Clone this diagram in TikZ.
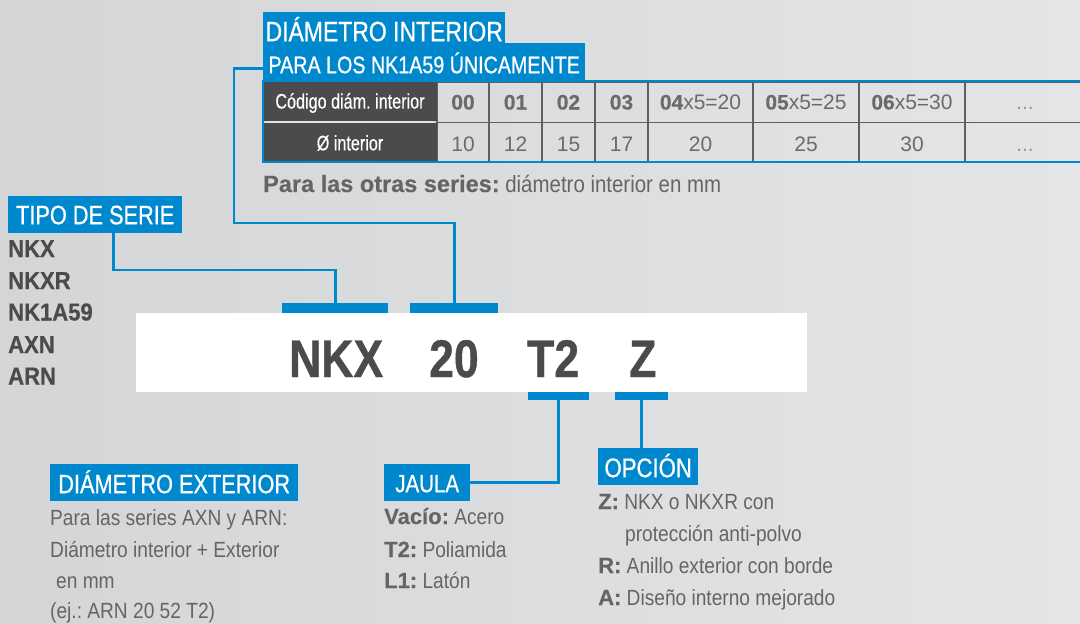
\documentclass[tikz,border=0pt]{standalone}
\usepackage{fontspec}
\setmainfont[FakeStretch=0.87]{Liberation Sans}
\newfontfamily\hfont[FakeStretch=0.82,FakeBold=0.7]{Liberation Sans}
\newfontfamily\cfont[FakeStretch=0.84,FakeBold=0.8]{Liberation Sans}
\newfontfamily\tfont[FakeStretch=0.77,FakeBold=0.4]{Liberation Sans}
\newfontfamily\sfont[FakeStretch=0.9,FakeBold=0.5]{Liberation Sans}
\newfontfamily\lfont[FakeBold=0.3]{Liberation Sans}
\newcommand\lab[1]{{\lfont\bfseries #1}}
\definecolor{bl}{HTML}{0088CE}
\definecolor{dk}{HTML}{4B4B4D}
\definecolor{tx}{HTML}{646567}
\definecolor{nm}{HTML}{6A6B6D}
\definecolor{grd}{HTML}{5E5F61}
\definecolor{bgL}{HTML}{D4D5D7}
\definecolor{bgR}{HTML}{E4E5E7}
\frenchspacing
\begin{document}
\begin{tikzpicture}[x=1pt,y=-1pt,
  tag/.style={fill=bl,text=white,inner sep=0pt,anchor=north west,text depth=0pt},
  bar/.style={fill=bl,inner sep=0pt,anchor=north west},
  conn/.style={draw=bl,line width=2.8pt},
  body/.style={anchor=base west,inner sep=0pt,text=tx,font=\frenchspacing\fontsize{22}{22}\selectfont},
  serie/.style={anchor=base west,inner sep=0pt,text=dk,font=\sfont\bfseries\fontsize{24.5}{25}\selectfont},
  code/.style={anchor=base west,inner sep=0pt,text=dk,font=\cfont\bfseries\fontsize{53}{53}\selectfont},
  cell/.style={draw=grd,line width=1.3pt,inner sep=0pt,minimum height=39.5pt,text depth=0pt,
    font=\fontsize{21}{21}\selectfont\addfontfeature{FakeStretch=1},text=nm},
  rowa/.style={cell,text height=14pt},
  rowb/.style={cell,text height=18pt},
  hdr/.style={anchor=center,text=white,inner sep=0pt,font=\tfont\fontsize{21}{21}\selectfont}
]
\useasboundingbox (0,0) rectangle (1080,624);
\fill[left color=bgL,right color=bgR] (0,0) rectangle (1080,624);

% title tags
\node[tag,minimum width=242pt,minimum height=31pt,text height=27pt,
  font=\hfont\fontsize{28}{28}\selectfont] (di) at (263,12) {DIÁMETRO INTERIOR};
\node[tag,minimum width=322pt,minimum height=37pt,text height=23pt,
  font=\hfont\fontsize{24}{24}\selectfont] (pl) at (263,43) {PARA LOS NK1A59 ÚNICAMENTE};

% table
\node[rowa,minimum width=52pt] (a1) at (463,102.5) {\lab{00}};
\node[rowa,minimum width=53pt] (a2) at (515.5,102.5) {\lab{01}};
\node[rowa,minimum width=53pt] (a3) at (568.5,102.5) {\lab{02}};
\node[rowa,minimum width=53pt] (a4) at (621.5,102.5) {\lab{03}};
\node[rowa,minimum width=105pt] (a5) at (700.5,102.5) {\lab{04}x5=20};
\node[rowa,minimum width=106pt] (a6) at (806,102.5) {\lab{05}x5=25};
\node[rowa,minimum width=106pt] (a7) at (912,102.5) {\lab{06}x5=30};
\node[rowa,minimum width=120pt,text=nm!70] (a8) at (1025,102.5) {...};
\node[rowb,minimum width=52pt] (b1c) at (463,142) {10};
\node[rowb,minimum width=53pt] (b2c) at (515.5,142) {12};
\node[rowb,minimum width=53pt] (b3c) at (568.5,142) {15};
\node[rowb,minimum width=53pt] (b4c) at (621.5,142) {17};
\node[rowb,minimum width=105pt] (b5c) at (700.5,142) {20};
\node[rowb,minimum width=106pt] (b6c) at (806,142) {25};
\node[rowb,minimum width=106pt] (b7c) at (912,142) {30};
\node[rowb,minimum width=120pt,text=nm!70] (b8c) at (1025,142) {...};
\draw[bl,line width=2pt] (1085,81) -- (263,81) -- (263,162) -- (1085,162);
\fill[dk] (264,82) rectangle (437,121.3);
\fill[dk] (264,122.7) rectangle (437,161);
\draw[white!85!dk,line width=1.5pt] (268,122) -- (433,122);
\node[hdr] (t1) at (350,103) {Código diám. interior};
\node[hdr] (t2) at (350,143) {Ø interior};

\node[body,font=\frenchspacing\fontsize{23.5}{24}\selectfont] (otras) at (263,192) {\lab{Para las otras series:} diámetro interior en mm};

% tipo de serie
\node[tag,minimum width=174pt,minimum height=37pt,text height=19pt,
  font=\hfont\fontsize{26.5}{26.5}\selectfont] (tipo) at (8,196) {TIPO DE SERIE};
\node[serie] (s1) at (8,257) {NKX};
\node[serie] (s2) at (8,289) {NKXR};
\node[serie] (s3) at (8,320.5) {NK1A59};
\node[serie] (s4) at (8,353) {AXN};
\node[serie] (s5) at (8,384.5) {ARN};

% plate
\node[fill=white,inner sep=0pt,anchor=north west,minimum width=671pt,minimum height=79pt] (plate) at (136,313) {};
\node[code] (c1) at (289,377) {NKX};
\node[code] (c2) at (429,377) {20};
\node[code] (c3) at (527,377) {T2};
\node[code] (c4) at (629,377) {Z};

% bars
\node[bar,minimum width=106pt,minimum height=10pt] (b1) at (282,303) {};
\node[bar,minimum width=88pt,minimum height=10pt] (b2) at (410,303) {};
\node[bar,minimum width=61pt,minimum height=8pt] (b3) at (528,392) {};
\node[bar,minimum width=53pt,minimum height=8pt] (b4) at (615,392) {};

% lower tags
\node[tag,minimum width=248pt,minimum height=37pt,text height=21pt,
  font=\hfont\fontsize{26.5}{26.5}\selectfont] (dext) at (50,464) {DIÁMETRO EXTERIOR};
\node[tag,minimum width=86pt,minimum height=37pt,text height=19pt,
  font=\hfont\fontsize{25}{25}\selectfont] (jaula) at (384,464) {JAULA};
\node[tag,minimum width=100pt,minimum height=37pt,text height=21pt,
  font=\hfont\fontsize{27}{27}\selectfont] (opc) at (598,448) {OPCIÓN};

% connectors
\draw[conn] ([yshift=12pt]pl.south west) -- ++(-29,0) |- (b2.north |- 0,223) -- (b2.north);
\draw[conn] ([xshift=18pt]tipo.south) |- (b1.north |- 0,270) -- (b1.north);
\draw[conn] (b3.south) |- (jaula.east);
\draw[conn] (b4.south) -- (b4.south |- opc.north);

% texts
\node[body] (d1) at (50,525) {Para las series AXN y ARN:};
\node[body] (d2) at (50,557) {Diámetro interior + Exterior};
\node[body] (d3) at (56,588) {en mm};
\node[body] (d4) at (50,618) {(ej.: ARN 20 52 T2)};

\node[body] (j1) at (384,524) {\lab{Vacío:} Acero};
\node[body] (j2) at (384,557) {\lab{T2:} Poliamida};
\node[body] (j3) at (384,588) {\lab{L1:} Latón};

\node[body] (o1) at (598,509) {\lab{Z:} NKX o NKXR con};
\node[body] (o2) at (625,541) {protección anti-polvo};
\node[body] (o3) at (598,573) {\lab{R:} Anillo exterior con borde};
\node[body] (o4) at (598,605) {\lab{A:} Diseño interno mejorado};
\end{tikzpicture}
\end{document}
